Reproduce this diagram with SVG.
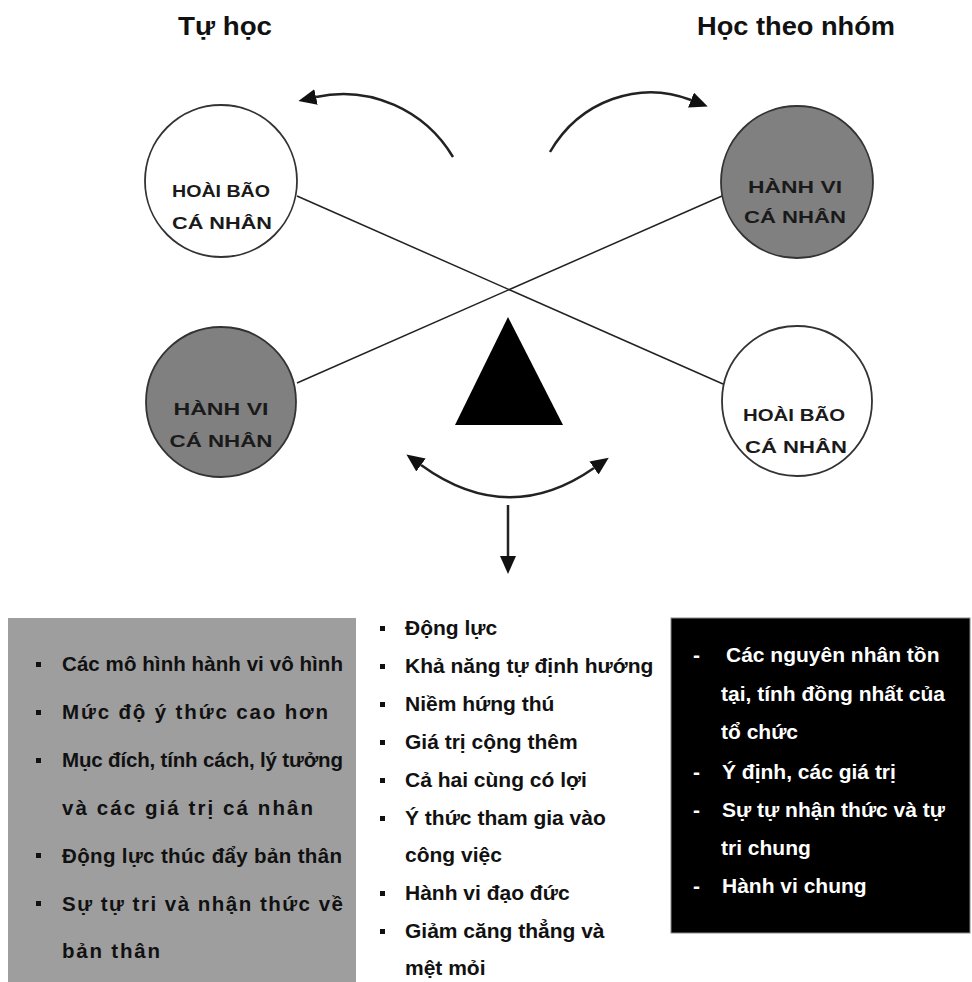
<svg xmlns="http://www.w3.org/2000/svg" width="972" height="982" viewBox="0 0 972 982">
<defs>
<marker id="ah" viewBox="0 0 18 16" refX="0" refY="8" markerWidth="18" markerHeight="16" markerUnits="userSpaceOnUse" orient="auto-start-reverse">
<path d="M0,0 L18,8 L0,16 z" fill="#111"/>
</marker>
<style>
.title{font-family:"Liberation Sans",Arial,sans-serif;font-weight:bold;font-size:26px;fill:#111;text-anchor:middle}
.ct{font-family:"Liberation Sans",Arial,sans-serif;font-weight:bold;font-size:17px;fill:#1a1a1a;text-anchor:middle}
.node-w{fill:#fff;stroke:#333;stroke-width:1.8}
.node-g{fill:#808080;stroke:#333;stroke-width:1.8}
.lt{font-family:"Liberation Sans",Arial,sans-serif;font-weight:bold;font-size:20.5px;fill:#111}
.mt{font-family:"Liberation Sans",Arial,sans-serif;font-weight:bold;font-size:21px;fill:#111}
.rt{font-family:"Liberation Sans",Arial,sans-serif;font-weight:bold;font-size:21px;fill:#fff}
.conn{fill:none;stroke:#222;stroke-width:1.5}
.arc{fill:none;stroke:#222;stroke-width:2.5}
</style>
</defs>
<rect width="972" height="982" fill="#fff"/>

<text class="title" x="225" y="35" textLength="94" lengthAdjust="spacingAndGlyphs">Tự học</text>
<text class="title" x="796" y="35" textLength="198" lengthAdjust="spacingAndGlyphs">Học theo nhóm</text>

<g id="connectors">
<line class="conn" x1="297" y1="196" x2="723" y2="384"/>
<line class="conn" x1="297" y1="383" x2="722" y2="196"/>
<path class="arc" d="M453,157 C425,110 370,85 316,97" marker-end="url(#ah)"/>
<path class="arc" d="M550,152 C580,100 640,80 691,100" marker-end="url(#ah)"/>
<path class="arc" d="M421,465 Q508,528 594,468" marker-start="url(#ah)" marker-end="url(#ah)"/>
<line class="arc" x1="508" y1="505" x2="508" y2="556" marker-end="url(#ah)"/>
</g>

<g id="node-tl">
<circle class="node-w" cx="221" cy="181" r="76"/>
<text class="ct" x="221" y="197" textLength="98" lengthAdjust="spacingAndGlyphs">HOÀI BÃO</text>
<text class="ct" x="222" y="229" textLength="100" lengthAdjust="spacingAndGlyphs">CÁ NHÂN</text>
</g>
<g id="node-tr">
<circle class="node-g" cx="797" cy="182" r="76"/>
<text class="ct" x="795" y="193" textLength="94" lengthAdjust="spacingAndGlyphs">HÀNH VI</text>
<text class="ct" x="795" y="223" textLength="102" lengthAdjust="spacingAndGlyphs">CÁ NHÂN</text>
</g>
<g id="node-bl">
<circle class="node-g" cx="221" cy="402" r="75"/>
<text class="ct" x="221" y="415" textLength="95" lengthAdjust="spacingAndGlyphs">HÀNH VI</text>
<text class="ct" x="221" y="447" textLength="103" lengthAdjust="spacingAndGlyphs">CÁ NHÂN</text>
</g>
<g id="node-br">
<circle class="node-w" cx="797" cy="401" r="75"/>
<text class="ct" x="794" y="421" textLength="102" lengthAdjust="spacingAndGlyphs">HOÀI BÃO</text>
<text class="ct" x="796" y="453" textLength="102" lengthAdjust="spacingAndGlyphs">CÁ NHÂN</text>
</g>
<g id="node-triangle">
<polygon points="508,317 455,425 563,425" fill="#000"/>
</g>

<g id="box-left">
<rect x="8" y="618" width="348" height="364" fill="#9e9e9e"/>
<g fill="#111">
<rect x="36" y="662" width="5" height="5"/>
<rect x="36" y="710" width="5" height="5"/>
<rect x="36" y="758" width="5" height="5"/>
<rect x="36" y="853" width="5" height="5"/>
<rect x="36" y="901" width="5" height="5"/>
</g>
<text class="lt" x="62" y="671" textLength="281" lengthAdjust="spacing">Các mô hình hành vi vô hình</text>
<text class="lt" x="62" y="719" textLength="266" lengthAdjust="spacing">Mức độ ý thức cao hơn</text>
<text class="lt" x="62" y="767" textLength="281" lengthAdjust="spacing">Mục đích, tính cách, lý tưởng</text>
<text class="lt" x="62" y="815" textLength="251" lengthAdjust="spacing">và các giá trị cá nhân</text>
<text class="lt" x="62" y="863" textLength="280" lengthAdjust="spacing">Động lực thúc đẩy bản thân</text>
<text class="lt" x="62" y="911" textLength="281" lengthAdjust="spacing">Sự tự tri và nhận thức về</text>
<text class="lt" x="62" y="958" textLength="98" lengthAdjust="spacing">bản thân</text>
</g>

<g id="box-middle">
<g fill="#111">
<rect x="380" y="626" width="5" height="5"/>
<rect x="380" y="664" width="5" height="5"/>
<rect x="380" y="702" width="5" height="5"/>
<rect x="380" y="740" width="5" height="5"/>
<rect x="380" y="778" width="5" height="5"/>
<rect x="380" y="816" width="5" height="5"/>
<rect x="380" y="891" width="5" height="5"/>
<rect x="380" y="929" width="5" height="5"/>
</g>
<text class="mt" x="405" y="635">Động lực</text>
<text class="mt" x="405" y="673">Khả năng tự định hướng</text>
<text class="mt" x="405" y="711">Niềm hứng thú</text>
<text class="mt" x="405" y="749">Giá trị cộng thêm</text>
<text class="mt" x="405" y="787">Cả hai cùng có lợi</text>
<text class="mt" x="405" y="825">Ý thức tham gia vào</text>
<text class="mt" x="405" y="862">công việc</text>
<text class="mt" x="405" y="900">Hành vi đạo đức</text>
<text class="mt" x="405" y="938">Giảm căng thẳng và</text>
<text class="mt" x="405" y="975">mệt mỏi</text>
</g>

<g id="box-right">
<rect x="671" y="618" width="299" height="315" fill="#000" stroke="#888" stroke-width="1"/>
<text class="rt" x="693" y="662">-</text>
<text class="rt" x="693" y="779">-</text>
<text class="rt" x="693" y="817">-</text>
<text class="rt" x="693" y="893">-</text>
<text class="rt" x="726" y="662">Các nguyên nhân tồn</text>
<text class="rt" x="721" y="701">tại, tính đồng nhất của</text>
<text class="rt" x="721" y="739">tổ chức</text>
<text class="rt" x="722" y="779">Ý định, các giá trị</text>
<text class="rt" x="722" y="817">Sự tự nhận thức và tự</text>
<text class="rt" x="721" y="855">tri chung</text>
<text class="rt" x="722" y="893">Hành vi chung</text>
</g>
</svg>
